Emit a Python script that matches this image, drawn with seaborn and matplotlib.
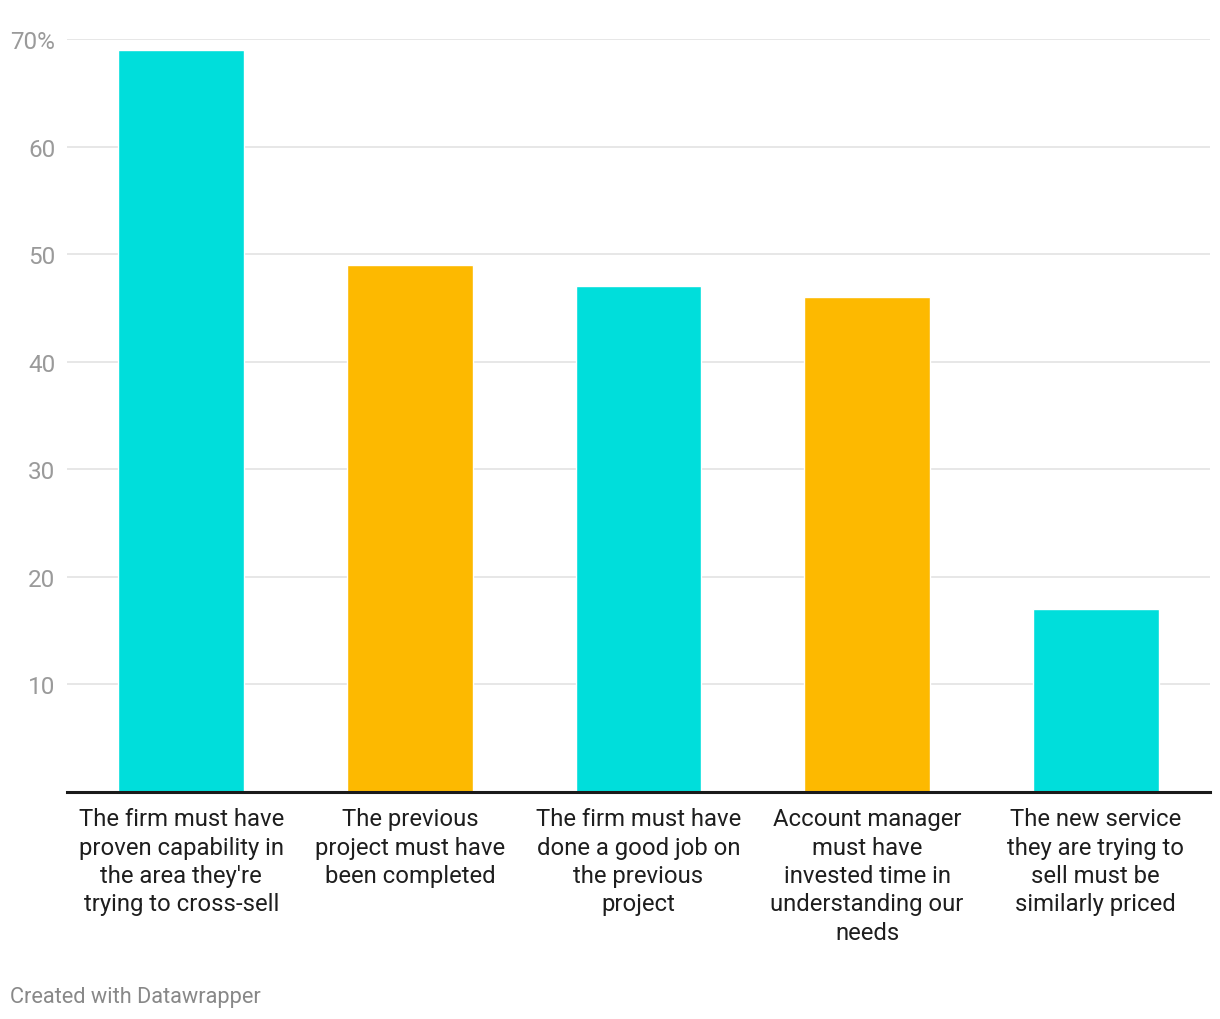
import matplotlib.pyplot as plt
import pandas as pd
import seaborn as sns

# Chart data
labels = [
    "The firm must have\nproven capability in\nthe area they're\ntrying to cross-sell",
    "The previous\nproject must have\nbeen completed",
    "The firm must have\ndone a good job on\nthe previous\nproject",
    "Account manager\nmust have\ninvested time in\nunderstanding our\nneeds",
    "The new service\nthey are trying to\nsell must be\nsimilarly priced",
]
values = [69, 49, 47, 46, 17]
bar_colors = ["#00DEDB", "#FDB900", "#00DEDB", "#FDB900", "#00DEDB"]
y_ticks = [10, 20, 30, 40, 50, 60, 70]
y_tick_labels = ["10", "20", "30", "40", "50", "60", "70%"]

df = pd.DataFrame({"label": labels, "value": values})

sns.set_style("white")
plt.rcParams["font.family"] = ["Roboto", "DejaVu Sans"]

fig = plt.figure(figsize=(12.2, 10.2), dpi=100)
ax = fig.add_axes([67 / 1220, 1 - 793 / 1020, (1210 - 67) / 1220, (793 - 40) / 1020])

sns.barplot(data=df, x="label", y="value", hue="label", palette=bar_colors,
            legend=False, width=0.55, saturation=1, ax=ax, zorder=3)

ax.set_xlim(-0.5, 4.5)
ax.set_ylim(0, 70)

# grid lines
ax.set_yticks(y_ticks)
ax.set_yticklabels(y_tick_labels)
ax.yaxis.grid(True, color="#e3e3e3", linewidth=1.2, zorder=0)
ax.xaxis.grid(False)
ax.tick_params(axis="y", length=0, pad=8.5, labelsize=17.5, labelcolor="#9a9a9a")
for t in ax.get_yticklabels():
    t.set_verticalalignment("center_baseline")
ax.tick_params(axis="x", length=0, pad=11, labelsize=17.2, labelcolor="#1e1e1e")
for t in ax.get_xticklabels():
    t.set_linespacing(1.3)

for side in ["top", "right", "left"]:
    ax.spines[side].set_visible(False)
ax.spines["bottom"].set_color("#1a1a1a")
ax.spines["bottom"].set_linewidth(2.2)
ax.spines["bottom"].set_zorder(4)

ax.set_xlabel("")
ax.set_ylabel("")

fig.text(10 / 1220, 1 - 998 / 1020, "Created with Datawrapper", fontsize=15.7,
         color="#888888", va="center", ha="left")

fig.savefig("out.png", dpi=100, facecolor="white")
